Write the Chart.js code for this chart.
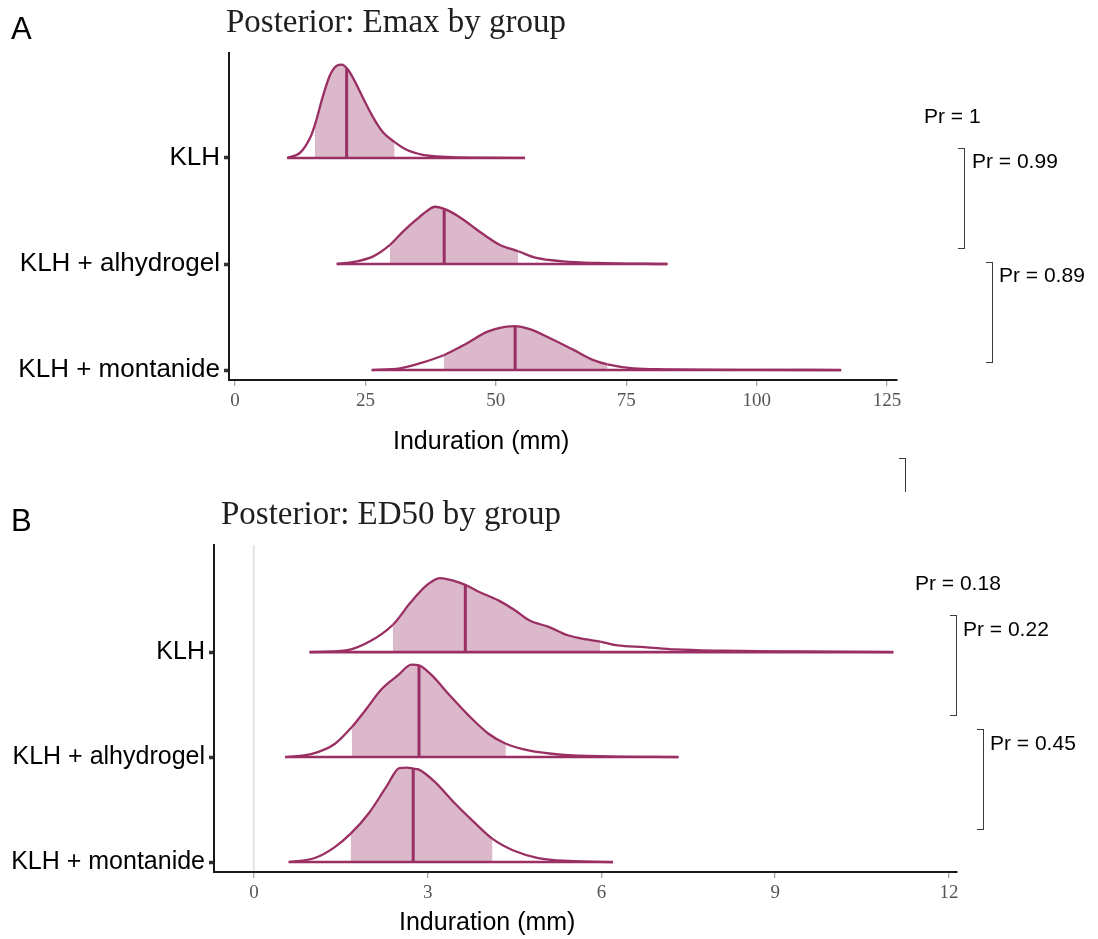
<!DOCTYPE html>
<html>
<head>
<meta charset="utf-8">
<title>Posterior Emax / ED50 by group</title>
<script src="https://cdn.jsdelivr.net/npm/chart.js@4.4.1/dist/chart.umd.min.js"></script>
<style>
  body { margin: 0; background: #fff; }
  #wrap { position: relative; width: 1098px; height: 939px; overflow: hidden; }
  canvas { position: absolute; left: 0; }
  .txt { position: absolute; white-space: nowrap; line-height: 1; }
  .sans { font-family: 'Liberation Sans', Arial, sans-serif; color: #000; }
  .serif { font-family: 'Liberation Serif', 'Times New Roman', serif; color: #1f1f1f; font-size: 33px; }
  .letter { font-size: 31px; }
  .axis-title { font-size: 25px; }
  .pr { font-size: 21px; }
  .bracket { position: absolute; box-sizing: border-box; width: 7px; border: 1.5px solid #3a3a3a; border-left: none; }
</style>
</head>
<body>
<div id="wrap">
  <canvas id="emaxChart" width="1098" height="470" style="top:0"></canvas>
  <canvas id="ed50Chart" width="1098" height="469" style="top:470px"></canvas>

  <div class="txt sans letter" style="left:11px; top:13px">A</div>
  <div class="txt serif" style="left:226px; top:5px">Posterior: Emax by group</div>
  <div class="txt sans axis-title" style="left:393px; top:428px">Induration (mm)</div>

  <div class="txt sans letter" style="left:11px; top:505px">B</div>
  <div class="txt serif" style="left:221px; top:497px">Posterior: ED50 by group</div>
  <div class="txt sans axis-title" style="left:399px; top:909px">Induration (mm)</div>

  <!-- pairwise probabilities -->
  <div class="txt sans pr" style="left:924px; top:105px">Pr = 1</div>
  <div class="txt sans pr" style="left:972px; top:150px">Pr = 0.99</div>
  <div class="bracket" style="left:958px; top:148px; height:101px"></div>
  <div class="txt sans pr" style="left:999px; top:264px">Pr = 0.89</div>
  <div class="bracket" style="left:986px; top:262px; height:101px"></div>
  <div class="bracket" style="left:899px; top:458px; height:34px; border-bottom:none"></div>

  <div class="txt sans pr" style="left:915px; top:572px">Pr = 0.18</div>
  <div class="txt sans pr" style="left:963px; top:618px">Pr = 0.22</div>
  <div class="bracket" style="left:950px; top:615px; height:101px"></div>
  <div class="txt sans pr" style="left:990px; top:732px">Pr = 0.45</div>
  <div class="bracket" style="left:977px; top:729px; height:101px"></div>
</div>

<script>
// groups, top to bottom
const groupLabels = ['KLH', 'KLH + alhydrogel', 'KLH + montanide'];

// x tick values
const emaxTicks = [0, 25, 50, 75, 100, 125];
const ed50Ticks = [0, 3, 6, 9, 12];

// Emax posterior densities (height in ridge units)
const emaxKlhX = [10.0, 12.5, 14.4, 15.3, 16.9, 18.2, 19.5, 20.5, 21.7, 23.0, 24.5, 26.5, 28.4, 30.6, 33.0, 36.0, 40.6, 47.0, 55.6];
const emaxKlhH = [0, 0.05, 0.19, 0.31, 0.59, 0.78, 0.87, 0.88, 0.83, 0.72, 0.57, 0.38, 0.24, 0.15, 0.075, 0.03, 0.01, 0.003, 0];
const emaxAlhX = [19.5, 23.3, 26.5, 29.7, 32.3, 34.8, 36.8, 38.3, 40.1, 42.5, 45.1, 47.6, 50.8, 54.3, 57.8, 62.9, 69.3, 82.9];
const emaxAlhH = [0, 0.025, 0.072, 0.18, 0.31, 0.42, 0.50, 0.54, 0.52, 0.46, 0.37, 0.28, 0.18, 0.12, 0.057, 0.025, 0.01, 0];
const emaxMonX = [26.2, 31.6, 35.4, 40.0, 44.4, 48.3, 52.1, 53.7, 56.5, 60.4, 64.9, 68.7, 71.4, 76.4, 82.8, 89.1, 100.0, 116.2];
const emaxMonH = [0, 0.016, 0.063, 0.14, 0.25, 0.36, 0.41, 0.415, 0.385, 0.30, 0.19, 0.094, 0.054, 0.016, 0.007, 0.003, 0.001, 0];
const emaxInterval = [[15.3, 30.6], [29.7, 54.3], [40.0, 71.4]];
const emaxMedian = [21.4, 40.1, 53.7];
const emaxMedianH = [0.85, 0.52, 0.415];

// ED50 posterior densities
const ed50KlhX = [0.96, 1.59, 1.98, 2.40, 2.71, 2.98, 3.21, 3.44, 3.65, 3.90, 4.23, 4.50, 4.76, 5.09, 5.42, 5.75, 5.98, 6.28, 6.74, 7.27, 8.07, 9.39, 11.04];
const ed50KlhH = [0, 0.016, 0.095, 0.26, 0.476, 0.635, 0.705, 0.68, 0.64, 0.57, 0.49, 0.40, 0.30, 0.24, 0.16, 0.12, 0.10, 0.063, 0.048, 0.025, 0.013, 0.006, 0];
const ed50AlhX = [0.54, 1.0, 1.40, 1.69, 1.92, 2.21, 2.49, 2.72, 2.85, 3.07, 3.36, 3.70, 4.05, 4.35, 4.74, 5.31, 6.12, 7.33];
const ed50AlhH = [0, 0.03, 0.127, 0.286, 0.444, 0.65, 0.78, 0.88, 0.873, 0.78, 0.60, 0.40, 0.222, 0.127, 0.063, 0.022, 0.006, 0];
const ed50MonX = [0.60, 1.05, 1.39, 1.67, 1.99, 2.29, 2.51, 2.64, 2.75, 2.85, 3.11, 3.45, 3.80, 4.12, 4.48, 4.91, 5.43, 6.20];
const ed50MonH = [0, 0.038, 0.14, 0.27, 0.47, 0.72, 0.895, 0.90, 0.89, 0.88, 0.77, 0.57, 0.38, 0.22, 0.11, 0.038, 0.01, 0];
const ed50Interval = [[2.40, 5.98], [1.69, 4.35], [1.67, 4.12]];
const ed50Median = [3.65, 2.85, 2.75];
const ed50MedianH = [0.64, 0.873, 0.89];

const lineColor = '#9a2f63';
const fillColor = '#dbb9cb';
const none = 'rgba(0,0,0,0)';

// one ridge = density outline (shaded inside the interval), baseline, median segment
function ridgeDatasets(xs, hs, base, interval, med, medH) {
  const lo = interval[0], hi = interval[1];
  return [
    {
      data: xs.map((x, i) => ({ x: x, y: base + hs[i] })),
      borderColor: lineColor,
      borderWidth: 2.3,
      backgroundColor: none,
      fill: { value: base },
      cubicInterpolationMode: 'monotone',
      pointRadius: 0,
      order: 2,
      segment: {
        backgroundColor: ctx =>
          xs[ctx.p0DataIndex] >= lo - 1e-9 && xs[ctx.p1DataIndex] <= hi + 1e-9 ? fillColor : none,
      },
    },
    {
      data: [{ x: xs[0], y: base }, { x: xs[xs.length - 1], y: base }],
      borderColor: lineColor,
      borderWidth: 2.6,
      pointRadius: 0,
      fill: false,
      order: 1,
    },
    {
      data: [{ x: med, y: base }, { x: med, y: base + medH }],
      borderColor: lineColor,
      borderWidth: 3,
      pointRadius: 0,
      fill: false,
      order: 0,
    },
  ];
}

function ridgeChart(id, groups, x, y, layout) {
  const datasets = [];
  groups.forEach((g, i) => {
    datasets.push(...ridgeDatasets(g[0], g[1], 2 - i, x.interval[i], x.median[i], x.medianH[i]));
  });
  return new Chart(document.getElementById(id), {
    type: 'line',
    data: { datasets: datasets },
    options: {
      responsive: false,
      animation: false,
      events: [],
      layout: { padding: layout.padding },
      plugins: { legend: { display: false }, tooltip: { enabled: false } },
      scales: {
        x: {
          type: 'linear',
          min: x.min,
          max: x.max,
          afterBuildTicks: s => { s.ticks = x.ticks.map(v => ({ value: v })); },
          afterFit: s => { s.height = 40; },
          border: { display: true, color: '#1a1a1a', width: 2 },
          grid: {
            display: true,
            drawOnChartArea: layout.zeroLine,
            color: ctx => (ctx.tick && ctx.tick.value === 0 ? '#dddddd' : none),
            lineWidth: 1.5,
            drawTicks: true,
            tickLength: 6,
            tickColor: '#8a8a8a',
            tickWidth: 1,
          },
          ticks: {
            color: '#555555',
            font: { family: "'Liberation Serif', 'Times New Roman', serif", size: 19 },
            padding: 4,
            maxRotation: 0,
            autoSkip: false,
          },
        },
        y: {
          type: 'linear',
          min: y.min,
          max: y.max,
          afterBuildTicks: s => { s.ticks = [0, 1, 2].map(v => ({ value: v })); },
          afterFit: s => { s.width = layout.axisWidth; },
          border: { display: true, color: '#1a1a1a', width: 2 },
          grid: {
            display: true,
            drawOnChartArea: false,
            drawTicks: true,
            tickLength: 5,
            tickWidth: 3.5,
            tickColor: '#333333',
          },
          ticks: {
            color: '#000',
            font: { family: "'Liberation Sans', Arial, sans-serif", size: layout.labelSize },
            padding: 4,
            autoSkip: false,
            callback: v => groupLabels[2 - v],
          },
        },
      },
    },
  });
}

document.addEventListener('DOMContentLoaded', function () {
  // Panel A: Emax
  ridgeChart('emaxChart',
    [[emaxKlhX, emaxKlhH], [emaxAlhX, emaxAlhH], [emaxMonX, emaxMonH]],
    { min: -1.15, max: 126.9, ticks: emaxTicks, interval: emaxInterval, median: emaxMedian, medianH: emaxMedianH },
    { min: -0.094, max: 2.99 },
    { padding: { top: 53, right: 201, bottom: 50, left: 0 }, axisWidth: 229, labelSize: 26, zeroLine: false });

  // Panel B: ED50
  ridgeChart('ed50Chart',
    [[ed50KlhX, ed50KlhH], [ed50AlhX, ed50AlhH], [ed50MonX, ed50MonH]],
    { min: -0.69, max: 12.14, ticks: ed50Ticks, interval: ed50Interval, median: ed50Median, medianH: ed50MedianH },
    { min: -0.095, max: 3.02 },
    { padding: { top: 75, right: 141, bottom: 27, left: 0 }, axisWidth: 214, labelSize: 25, zeroLine: true });
});
</script>
</body>
</html>
